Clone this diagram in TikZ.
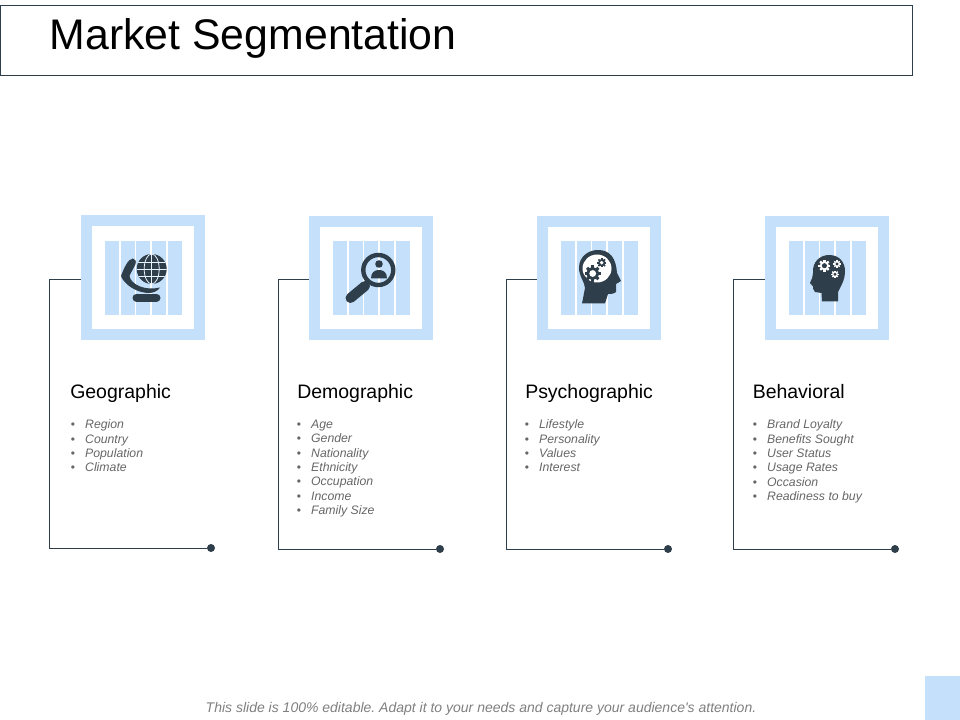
\documentclass[tikz,border=0pt]{standalone}
\usepackage{fontspec}
\setmainfont{Liberation Sans}
\newfontfamily\plainfoot{Liberation Sans}
\definecolor{paleblue}{HTML}{C5E0FB}
\definecolor{inkdark}{HTML}{2F3E4B}
\definecolor{listgrey}{HTML}{666666}
\definecolor{footgrey}{HTML}{7F7F7F}
\tikzset{
  frameline/.style={draw=paleblue,line width=7.9pt,fill=white,rectangle,inner sep=0pt,minimum width=85.1pt,minimum height=85.1pt},
  connector/.style={draw=inkdark,line width=0.6pt},
  enddot/.style={circle,fill=inkdark,inner sep=0pt,minimum size=6pt},
  heading/.style={anchor=base west,inner sep=0pt,font=\fontsize{14.6}{17}\selectfont,text=black},
  itemlist/.style={anchor=north west,inner sep=0pt,align=left,text=listgrey,font=\fontsize{9.2}{10.8}\selectfont\itshape},
  stripe/.style={fill=paleblue}
}
\newcommand{\stripes}[2]{% left x, top y
  \foreach \k in {0,1,2,3,4}{
    \fill[stripe] ({#1+\k*15.7},#2) rectangle ({#1+\k*15.7+14},{#2+73.5});
  }
}
\newcommand{\mygear}[5]{% x y r fg bg
  \begin{scope}[shift={(#1,#2)}]
    \foreach \a in {0,45,...,315}{
      \fill[#4,rotate=\a] ({-0.24*#3},{0.7*#3}) rectangle ({0.24*#3},{1.3*#3});
    }
    \fill[#4] (0,0) circle[radius={#3}];
    \fill[#5] (0,0) circle[radius={0.55*#3}];
  \end{scope}
}
\begin{document}
\begin{tikzpicture}[x=0.75pt,y=-0.75pt]
\useasboundingbox (0,0) rectangle (960,720);
% title
\node[draw=inkdark,line width=0.6pt,rectangle,inner sep=0pt,minimum width=684pt,minimum height=52.5pt,anchor=north west] (titlebox) at (0,5.5) {};
\node[anchor=base west,inner sep=0pt,font=\fontsize{32.1}{38}\selectfont,text=black] (titletext) at (49.5,50) {Market Segmentation};
% corner block
\fill[paleblue] (925,676) rectangle (960,720);
% frames
\node[frameline] (f1) at (143,277.5) {};
\node[frameline] (f2) at (371,278) {};
\node[frameline] (f3) at (599,278) {};
\node[frameline] (f4) at (827,278) {};
\stripes{105}{241}
\stripes{333}{241.5}
\stripes{561}{241.5}
\stripes{789}{241.5}
% connectors
\coordinate (c1) at (49.5,279);
\coordinate (c2) at (278,279);
\coordinate (c3) at (506,279);
\coordinate (c4) at (733.5,279);
\node[enddot] (d1) at (211,548) {};
\node[enddot] (d2) at (440,549) {};
\node[enddot] (d3) at (668,549) {};
\node[enddot] (d4) at (895,549) {};
\foreach \n in {1,2,3,4}{
  \draw[connector] (f\n.west |- c\n) -- (c\n) -- (c\n |- d\n) -- (d\n);
}
% icon 1: hand and globe
\fill[inkdark] (132.7,258.5) .. controls (128,259) and (124,268) .. (121,276)
  .. controls (124,284) and (135,292) .. (147.3,293)
  .. controls (153,293.3) and (158,291) .. (160,287.5)
  .. controls (153,289) and (147,289) .. (140,286.5)
  .. controls (134,284) and (130,280) .. (129.5,276)
  .. controls (131,272) and (134,268) .. (135.5,264)
  .. controls (136.5,261) and (135,258.5) .. (132.7,258.5) -- cycle;
\draw[inkdark,line width=6pt,line cap=round] (136.5,297.7) -- (156.5,297.7);
\fill[inkdark] (151.7,269) circle[radius=15];
\begin{scope}
  \clip (151.7,269) circle[radius=15];
  \draw[paleblue!40!white,line width=0.6pt] (136,269) -- (168,269) (136,262) -- (168,262) (136,276) -- (168,276) (151.7,254) -- (151.7,284);
  \draw[paleblue!40!white,line width=0.6pt] (151.7,269) ellipse[x radius=7.5,y radius=15];
\end{scope}
% icon 2: magnifier
\draw[inkdark,line width=3.3pt] (378.3,270) circle[radius=15];
\fill[inkdark] (379,264) circle[radius=3.8];
\fill[inkdark] (371,278.3) .. controls (371,272) and (375,270) .. (379,270) .. controls (383,270) and (387,272) .. (387,278.3) -- cycle;
\draw[inkdark,line width=3pt] (368,281) -- (363,286);
\draw[inkdark,line width=7.5pt,line cap=round] (365,286) -- (350.5,298);
% icon 3: head with gears, facing right
\fill[inkdark] (582,303.5) -- (585,288) .. controls (585,283) and (579,276) .. (579,268)
  .. controls (579,256) and (589,250) .. (598,250)
  .. controls (610,250) and (616,258) .. (617,273)
  -- (621,281) -- (616,284) -- (616,292) .. controls (614,294) and (610,294) .. (608,294)
  -- (605,303.5) -- cycle;
\fill[white] (597,268.5) ellipse[x radius=14.5,y radius=14];
\mygear{592.7}{273.5}{6.2}{inkdark}{white}
\mygear{601.7}{262.7}{3.6}{inkdark}{white}
% icon 4: head with gears, facing left
\fill[inkdark] (822,301.5) -- (821.5,293) -- (815,292) .. controls (813,290) and (813,288) .. (813,286.5)
  -- (810,283) .. controls (812,278) and (813,277) .. (813,273)
  .. controls (812,262) and (820,255) .. (829,255)
  .. controls (840,255) and (845,263) .. (845,271)
  .. controls (845,280) and (841,286) .. (838,292) -- (838,301.5) -- cycle;
\mygear{824.4}{265.7}{4.6}{white}{inkdark}
\mygear{837}{264}{2.9}{white}{inkdark}
\mygear{835}{274.3}{2.9}{white}{inkdark}
% text
\node[heading] (h1) at (70,398.5) {Geographic};
\node[heading] (h2) at (297,398.5) {Demographic};
\node[heading] (h3) at (525,398.5) {Psychographic};
\node[heading] (h4) at (752.5,398.5) {Behavioral};
\newcommand{\bul}{\makebox[10.8pt][l]{\upshape\fontsize{9}{9}\selectfont•}}
\node[itemlist] (l1) at (70.5,419.5) {\bul Region\\\bul Country\\\bul Population\\\bul Climate};
\node[itemlist] (l2) at (296.5,419.5) {\bul Age\\\bul Gender\\\bul Nationality\\\bul Ethnicity\\\bul Occupation\\\bul Income\\\bul Family Size};
\node[itemlist] (l3) at (524.5,419.5) {\bul Lifestyle\\\bul Personality\\\bul Values\\\bul Interest};
\node[itemlist] (l4) at (752.5,419.5) {\bul Brand Loyalty\\\bul Benefits Sought\\\bul User Status\\\bul Usage Rates\\\bul Occasion\\\bul Readiness to buy};
\node[anchor=base,inner sep=0pt,text=footgrey,font=\plainfoot\fontsize{10.5}{12}\selectfont\itshape\frenchspacing] (foot) at (481,712.5) {This slide is 100\% editable. Adapt it to your needs and capture your audience's attention.};
\end{tikzpicture}
\end{document}
